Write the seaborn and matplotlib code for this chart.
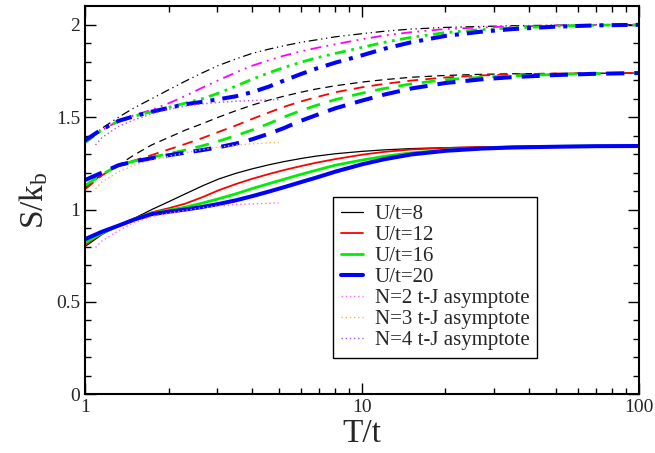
import numpy as np
import pandas as pd
import matplotlib
matplotlib.use("Agg")
import matplotlib.pyplot as plt
import seaborn as sns

sns.set_theme(style="ticks")
plt.rcParams['font.family'] = ['Liberation Serif', 'DejaVu Serif']
plt.rcParams['mathtext.fontset'] = 'custom'
plt.rcParams['mathtext.rm'] = 'Liberation Serif'
plt.rcParams['mathtext.it'] = 'Liberation Serif:italic'

# ---- data ----
T = [1, 1.15, 1.32, 1.5, 1.74, 2.0, 2.3, 2.65, 3.03, 3.5, 4.0, 4.6, 5.2,
     6.0, 6.8, 8.0, 10, 12, 15, 20, 27, 35, 50, 70, 100]
U_labels = ["U/t=8", "U/t=12", "U/t=16", "U/t=20"]

# lower group (solid)
s2_U8 = [0.80, 0.865, 0.913, 0.952, 1.0, 1.042, 1.085, 1.128, 1.165, 1.196, 1.22, 1.242, 1.259,
         1.276, 1.289, 1.302, 1.315, 1.323, 1.33, 1.335, 1.339, 1.341, 1.343, 1.344, 1.344]
s2_U12 = [0.81, 0.87, 0.913, 0.95, 0.985, 1.007, 1.032, 1.067, 1.104, 1.138, 1.166, 1.192, 1.213,
          1.235, 1.253, 1.273, 1.297, 1.312, 1.325, 1.333, 1.338, 1.341, 1.343, 1.344, 1.344]
s2_U16 = [0.82, 0.872, 0.913, 0.948, 0.98, 0.997, 1.013, 1.035, 1.058, 1.085, 1.113, 1.14, 1.163,
          1.19, 1.212, 1.24, 1.268, 1.288, 1.307, 1.322, 1.332, 1.338, 1.342, 1.344, 1.344]
s2_U20 = [0.84, 0.88, 0.913, 0.945, 0.975, 0.988, 1.0, 1.014, 1.03, 1.05, 1.072, 1.097, 1.12,
          1.148, 1.172, 1.205, 1.245, 1.272, 1.298, 1.318, 1.33, 1.336, 1.34, 1.343, 1.344]

# middle group (dashed)
s3_U8 = [1.12, 1.19, 1.24, 1.295, 1.35, 1.39, 1.43, 1.465, 1.50, 1.535, 1.565, 1.592, 1.613,
         1.635, 1.652, 1.670, 1.690, 1.703, 1.716, 1.726, 1.732, 1.735, 1.737, 1.738, 1.739]
s3_U12 = [1.11, 1.185, 1.24, 1.265, 1.295, 1.325, 1.355, 1.387, 1.42, 1.455, 1.49, 1.525, 1.555,
          1.585, 1.607, 1.635, 1.662, 1.68, 1.698, 1.715, 1.726, 1.732, 1.736, 1.738, 1.739]
s3_U16 = [1.13, 1.19, 1.24, 1.262, 1.283, 1.302, 1.322, 1.345, 1.37, 1.40, 1.43, 1.465, 1.50,
          1.535, 1.563, 1.595, 1.63, 1.655, 1.68, 1.703, 1.716, 1.724, 1.731, 1.736, 1.739]
s3_U20 = [1.16, 1.20, 1.24, 1.26, 1.278, 1.294, 1.308, 1.322, 1.337, 1.357, 1.38, 1.41, 1.44,
          1.48, 1.51, 1.548, 1.59, 1.622, 1.655, 1.685, 1.705, 1.717, 1.728, 1.735, 1.739]

# upper group (dash-dot)
s4_U8 = [1.37, 1.44, 1.50, 1.55, 1.60, 1.648, 1.695, 1.74, 1.78, 1.815, 1.845, 1.868, 1.886,
         1.905, 1.918, 1.935, 1.952, 1.965, 1.977, 1.986, 1.991, 1.995, 1.998, 2.0, 2.0]
s4_U12 = [1.36, 1.43, 1.48, 1.51, 1.54, 1.575, 1.615, 1.66, 1.70, 1.742, 1.778, 1.808, 1.832,
          1.856, 1.874, 1.895, 1.922, 1.942, 1.96, 1.977, 1.986, 1.991, 1.996, 1.999, 2.0]
s4_U16 = [1.365, 1.43, 1.48, 1.505, 1.53, 1.553, 1.576, 1.60, 1.63, 1.668, 1.705, 1.74, 1.768,
          1.797, 1.82, 1.845, 1.878, 1.905, 1.932, 1.958, 1.974, 1.983, 1.993, 1.998, 2.0]
s4_U20 = [1.375, 1.435, 1.48, 1.505, 1.53, 1.55, 1.57, 1.583, 1.597, 1.613, 1.635, 1.665, 1.697,
          1.733, 1.762, 1.795, 1.835, 1.87, 1.905, 1.94, 1.963, 1.977, 1.99, 1.997, 2.0]

# t-J asymptotes
T_asym = [1.09, 1.15, 1.32, 1.5, 1.74, 2.0, 2.3, 2.65, 3.03, 3.5, 4.0, 4.6, 5.0]
asym_N2 = [0.795, 0.83, 0.885, 0.93, 0.962, 0.98, 0.995, 1.01, 1.02, 1.027, 1.031, 1.034, 1.036]
asym_N3 = [1.113, 1.15, 1.204, 1.24, 1.267, 1.288, 1.307, 1.325, 1.338, 1.349, 1.356, 1.361, 1.364]
asym_N4 = [1.35, 1.39, 1.45, 1.485, 1.518, 1.542, 1.56, 1.572, 1.58, 1.586, 1.59, 1.593, 1.595]
asym_labels = ["N=2 t-J asymptote", "N=3 t-J asymptote", "N=4 t-J asymptote"]

# ---- styles ----
colors_U = ["black", "#ff0000", "#00ee00", "#0000ff"]
colors_U4 = ["black", "#ff00ff", "#00ee00", "#0000ff"]
lw_U = [0.9, 1.3, 2.0, 2.9]
asym_colors = ["#ff66ff", "#ffb040", "#b050e0"]

fig, ax = plt.subplots(figsize=(6.55, 4.53), dpi=100)
fig.subplots_adjust(left=0.13, right=0.9756, bottom=0.1296, top=0.986)

groups = [(s2_U8, s2_U12, s2_U16, s2_U20),
          (s3_U8, s3_U12, s3_U16, s3_U20),
          (s4_U8, s4_U12, s4_U16, s4_U20)]

dash_g3 = [(6, 4), (6, 4), (5, 3.5), (4.5, 2.5)]
dash_g4 = [(7, 3, 1, 3, 1, 3), (6, 3, 1, 3, 1, 3), (4, 2, 1, 2, 1, 2), (4, 2, 1, 2)]

for gi, grp in enumerate(groups):
    for ui, ys in enumerate(grp):
        df = pd.DataFrame({"T": T, "S": ys})
        col = colors_U4[ui] if gi == 2 else colors_U[ui]
        lab = U_labels[ui] if gi == 0 else None
        sns.lineplot(data=df, x="T", y="S", ax=ax, color=col, lw=lw_U[ui],
                     label=lab, legend=False, estimator=None, sort=False)
        l = ax.lines[-1]
        l.set_solid_joinstyle("round")
        l.set_dash_joinstyle("round")
        if gi == 1:
            l.set_dashes(dash_g3[ui])
        elif gi == 2:
            l.set_dashes(dash_g4[ui])

for ai, ys in enumerate([asym_N2, asym_N3, asym_N4]):
    df = pd.DataFrame({"T": T_asym, "S": ys})
    sns.lineplot(data=df, x="T", y="S", ax=ax, color=asym_colors[ai], lw=1.0,
                 label=asym_labels[ai], legend=False, estimator=None, sort=False)
    ax.lines[-1].set_dashes((1, 2))

ax.set_xscale("log")
ax.set_xlim(1, 100)
ax.set_ylim(0, 2.1)
ax.set_yticks([0, 0.5, 1, 1.5, 2])
ax.set_yticklabels(["0", "0.5", "1", "1.5", "2"])
ax.set_yticks(np.arange(0, 2.1, 0.1), minor=True)
ax.set_xticks([1, 10, 100])
ax.set_xticklabels(["1", "10", "100"])
ax.tick_params(which="both", direction="in", top=True, right=True, labelsize=14, width=1, color="black")
ax.tick_params(which="major", length=8)
ax.tick_params(which="minor", length=4)
for sp in ax.spines.values():
    sp.set_linewidth(1.5)
    sp.set_color("black")

ax.set_xlabel("T/t", fontsize=24, labelpad=2)
ax.set_ylabel(r"S/k$_\mathrm{b}$", fontsize=24, labelpad=4)

leg = ax.legend(loc="upper left", bbox_to_anchor=(0.448, 0.508), fontsize=15,
                frameon=True, fancybox=False, edgecolor="black", framealpha=1,
                handlelength=1.1, handletextpad=0.55, borderpad=0.35, labelspacing=0.07,
                borderaxespad=0)
leg.get_frame().set_linewidth(1.0)

fig.savefig("out.png", dpi=100)
